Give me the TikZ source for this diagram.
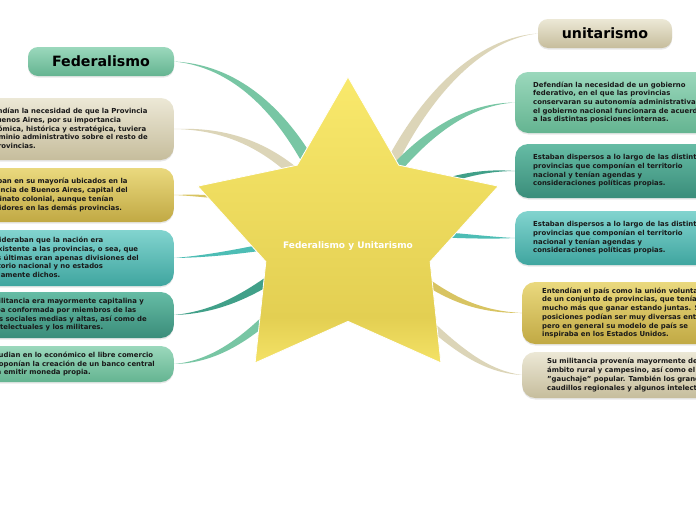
\documentclass[tikz,border=0pt]{standalone}
\usepackage{fontspec}
\setmainfont{DejaVu Sans}
\usepackage{xcolor}
\usetikzlibrary{arrows.meta,positioning,shapes.geometric,calc,shadows}
\definecolor{verdeA}{HTML}{9BD8BC}
\definecolor{verdeB}{HTML}{64B491}
\definecolor{beigeA}{HTML}{ECE8D6}
\definecolor{beigeB}{HTML}{C6BD9C}
\definecolor{oroA}{HTML}{EAD97E}
\definecolor{oroB}{HTML}{C1A944}
\definecolor{turqA}{HTML}{82D4CF}
\definecolor{turqB}{HTML}{3FA59F}
\definecolor{petroA}{HTML}{66BCA5}
\definecolor{petroB}{HTML}{3A8D7A}
\definecolor{cVerde}{HTML}{78C6A4}
\definecolor{cBeige}{HTML}{DCD5B8}
\definecolor{cOro}{HTML}{D8C462}
\definecolor{cTurq}{HTML}{4DBDB5}
\definecolor{cPetro}{HTML}{41A089}
\definecolor{amaA}{HTML}{F9E96C}
\definecolor{amaB}{HTML}{E3CF52}
\definecolor{amaC}{HTML}{F4E266}
\pgfdeclareverticalshading{estrella}{100bp}{color(0bp)=(amaC); color(25bp)=(amaC); color(33bp)=(amaB); color(75bp)=(amaA); color(100bp)=(amaA)}
\newcommand\cinta[6]{\fill[#1] (#2) .. controls ($(#3)+0.4*(#6)$) and ($(#4)+0.8*(#6)$) .. ($(#5)+(#6)$) -- ($(#5)-(#6)$) .. controls ($(#4)-0.8*(#6)$) and ($(#3)-0.4*(#6)$) .. (#2) -- cycle;}

\begin{document}
\begin{tikzpicture}[x=1pt,y=-1pt,every node/.style={font=\fontsize{6.9}{8.7}\selectfont\bfseries}]
\tikzstyle{caja}=[rounded corners=13pt, inner ysep=4pt, align=left, text=black!90, drop shadow={shadow xshift=0pt, shadow yshift=-1.5pt, opacity=0.18}]
\tikzstyle{izq}=[caja, anchor=east]
\tikzstyle{der}=[caja, anchor=west]
\tikzstyle{titulo}=[rounded corners=10pt, minimum height=29pt, font=\fontsize{14.2}{16}\selectfont\bfseries, drop shadow={shadow xshift=0pt, shadow yshift=-1.5pt, opacity=0.18}]
\tikzstyle{verde}=[top color=verdeA, bottom color=verdeB]
\tikzstyle{beige}=[top color=beigeA, bottom color=beigeB]
\tikzstyle{oro}=[top color=oroA, bottom color=oroB]
\tikzstyle{turq}=[top color=turqA, bottom color=turqB]
\tikzstyle{petro}=[top color=petroA, bottom color=petroB]
\useasboundingbox (0,0) rectangle (696,520);
\clip (0,0) rectangle (696,520);
\fill[white] (0,0) rectangle (696,520);
\coordinate (estrella) at (348,235);
\node[titulo, verde, minimum width=146pt] (fed) at (101,61.5) {Federalismo};
\node[titulo, beige, minimum width=134pt] (uni) at (605,33.5) {unitarismo};
\node[izq, beige, inner xsep=26pt, minimum height=62pt] (lb1) at (174,129) {Defendían la necesidad de que la Provincia\\ de Buenos Aires, por su importancia\\ económica, histórica y estratégica, tuviera\\ el dominio administrativo sobre el resto de\\ las provincias.};
\node[izq, oro, inner xsep=46pt, minimum height=54pt] (lb2) at (174,195) {Estaban en su mayoría ubicados en la\\ Provincia de Buenos Aires, capital del\\ Virreinato colonial, aunque tenían\\ seguidores en las demás provincias.};
\node[izq, turq, inner xsep=35pt, minimum height=56pt] (lb3) at (174,258) {Consideraban que la nación era\\ preexistente a las provincias, o sea, que\\ estas últimas eran apenas divisiones del\\ territorio nacional y no estados\\ propiamente dichos.};
\node[izq, petro, inner xsep=27pt, minimum height=46pt] (lb4) at (174,315) {Su militancia era mayormente capitalina y\\ estaba conformada por miembros de las\\ clases sociales medias y altas, así como de\\ los intelectuales y los militares.};
\node[izq, verde, inner xsep=19pt, minimum height=36pt] (lb5) at (174,364) {Repudian en lo económico el libre comercio\\ y proponían la creación de un banco central\\ para emitir moneda propia.};
\node[der, verde, inner xsep=18pt, minimum height=61pt] (rb1) at (515,102.5) {Defendían la necesidad de un gobierno\\ federativo, en el que las provincias\\ conservaran su autonomía administrativa y\\ el gobierno nacional funcionara de acuerdo\\ a las distintas posiciones internas.};
\node[der, petro, inner xsep=18pt, minimum height=54pt] (rb2) at (515,171) {Estaban dispersos a lo largo de las distintas\\ provincias que componían el territorio\\ nacional y tenían agendas y\\ consideraciones políticas propias.};
\node[der, turq, inner xsep=18pt, minimum height=54pt] (rb3) at (515,238) {Estaban dispersos a lo largo de las distintas\\ provincias que componían el territorio\\ nacional y tenían agendas y\\ consideraciones políticas propias.};
\node[der, oro, inner xsep=20pt, minimum height=62pt] (rb4) at (522,313) {Entendían el país como la unión voluntaria\\ de un conjunto de provincias, que tenían\\ mucho más que ganar estando juntas. Sus\\ posiciones podían ser muy diversas entre sí,\\ pero en general su modelo de país se\\ inspiraba en los Estados Unidos.};
\node[der, beige, inner xsep=25pt, minimum height=46pt] (rb5) at (522,375) {Su militancia provenía mayormente del\\ ámbito rural y campesino, así como el\\ "gauchaje" popular. También los grandes\\ caudillos regionales y algunos intelectuales.};
\cinta{cVerde}{fed.east}{235,66}{280,110}{312,168}{5,-3.5}
\cinta{cBeige}{uni.west}{485,38}{430,85}{388,170}{5,2.5}
\cinta{cBeige}{lb1.east}{235,128}{275,152}{308,185}{3.5,-4.5}
\cinta{cOro}{lb2.east}{195,195}{215,197}{240,198}{0,2.2}
\cinta{cTurq}{lb3.east}{215,256}{245,250}{278,245}{0.5,3.5}
\cinta{cPetro}{lb4.east}{220,312}{252,292}{282,272}{3,4}
\cinta{cVerde}{lb5.east}{215,362}{248,337}{278,308}{3.5,3.5}
\cinta{cVerde}{rb1.west}{470,104}{430,130}{393,172}{4.5,3}
\cinta{cPetro}{rb2.west}{485,170}{462,175}{430,186}{0.5,3}
\cinta{cTurq}{rb3.west}{490,238}{465,236}{430,234}{0,3}
\cinta{cOro}{rb4.west}{480,312}{452,300}{418,276}{-2.5,3}
\cinta{cBeige}{rb5.west}{490,372}{462,355}{420,315}{-3,3}
\node[star, star points=5, star point ratio=1.83, minimum size=316pt, inner sep=0pt, shading=estrella, draw=white, line width=0.8pt] (astro) at (estrella) {};
\node[text=white, font=\fontsize{9}{11}\selectfont\bfseries] (lema) at (348,246) {Federalismo y Unitarismo};
\end{tikzpicture}
\end{document}
